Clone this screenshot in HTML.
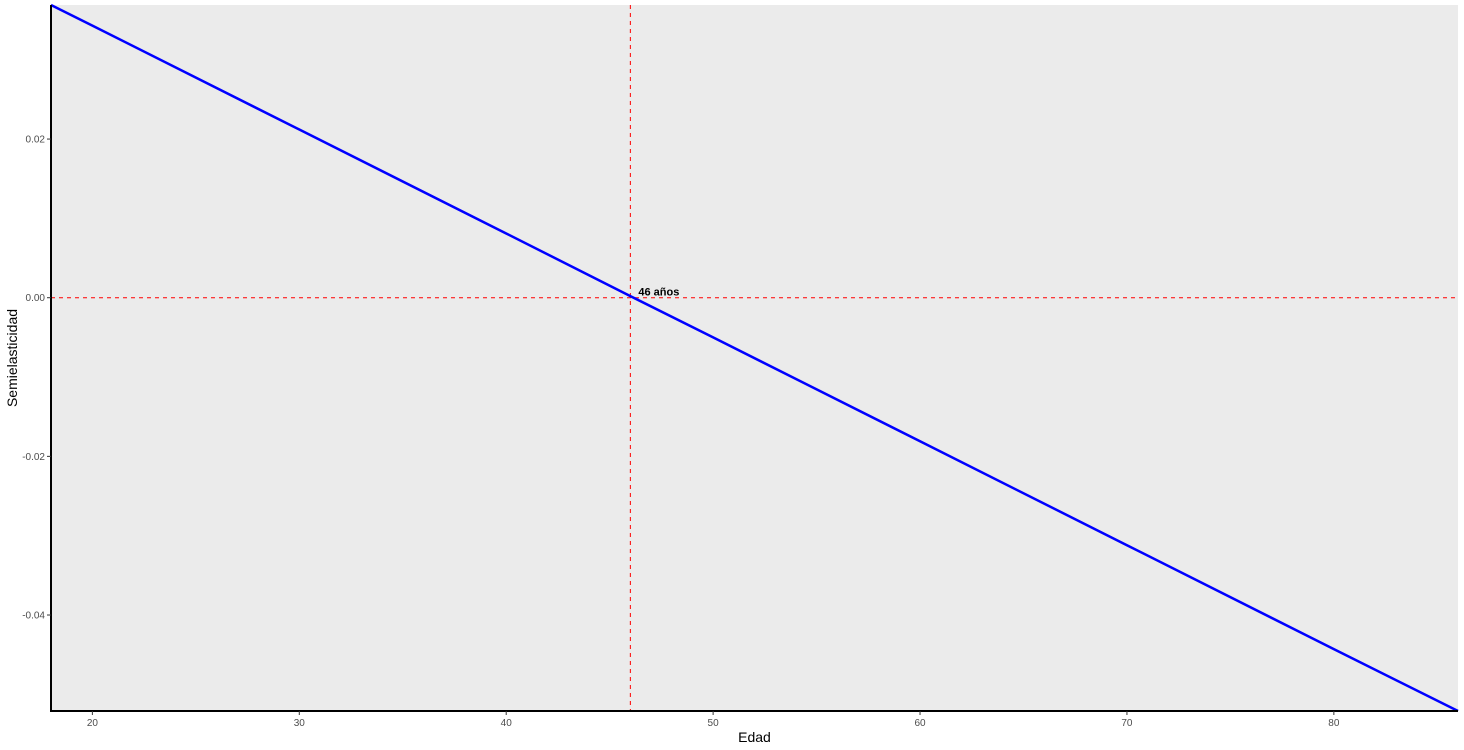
<!DOCTYPE html>
<html><head><meta charset="utf-8"><style>
body{margin:0;background:#fff;font-family:"Liberation Sans",Arial,sans-serif;}
svg{display:block}
</style></head><body>
<svg id="chart" width="1464" height="750"></svg>
<script>
const ages = [18, 20, 30, 40, 46, 50, 60, 70, 80, 86];
const semiel = [0.0369, 0.0343, 0.0212, 0.0081, 0.0002, -0.0050, -0.0181, -0.0312, -0.0443, -0.0521];
const xTicks = [20, 30, 40, 50, 60, 70, 80];
const yTicks = [0.02, 0.00, -0.02, -0.04];
const yTickLabels = ["0.02", "0.00", "-0.02", "-0.04"];
const refAge = 46;
const refValue = 0;
const refLabel = "46 años";

const NS = "http://www.w3.org/2000/svg";
const svg = document.getElementById("chart");
const L = 51, R = 1458, T = 5, B = 711;
const xMin = 18, xMax = 86, yMin = -0.0521, yMax = 0.0369;
const xs = v => L + (v - xMin) / (xMax - xMin) * (R - L);
const ys = v => B - (v - yMin) / (yMax - yMin) * (B - T);
function mk(tag, attrs, parent) {
  const e = document.createElementNS(NS, tag);
  for (const k in attrs) e.setAttribute(k, attrs[k]);
  (parent || svg).appendChild(e);
  return e;
}
const bg = mk("rect", {x: L, y: T, width: R - L, height: B - T, fill: "#ebebeb"});



const hl = mk("line", {x1: L, x2: R, y1: ys(refValue), y2: ys(refValue), stroke: "#ff0000", "stroke-width": 1, "stroke-dasharray": "4,4"});


const vl = mk("line", {x1: xs(refAge), x2: xs(refAge), y1: T, y2: B, stroke: "#ff0000", "stroke-width": 1, "stroke-dasharray": "4,4"});



const pl = mk("polyline", {points: ages.map((a, i) => xs(a) + "," + ys(semiel[i])).join(" "), fill: "none", stroke: "#0000ff", "stroke-width": 2.5});



const lab = mk("text", {x: xs(refAge) + 8, y: ys(refValue) - 2, "font-size": 11, "font-weight": "bold", fill: "#000"});
lab.textContent = refLabel;



const ax = mk("line", {x1: L, x2: R, y1: B, y2: B, stroke: "#000", "stroke-width": 2});


const ay = mk("line", {x1: L, x2: L, y1: T, y2: B + 1, stroke: "#000", "stroke-width": 2});



xTicks.forEach(t => {
  const tk = mk("line", {x1: xs(t), x2: xs(t), y1: B, y2: B + 4, stroke: "#333"});
  
  
  const tx = mk("text", {x: xs(t), y: B + 15, "font-size": 10, fill: "#4d4d4d", "text-anchor": "middle"});
  tx.textContent = t;
  
  
});
yTicks.forEach((t, i) => {
  const tk = mk("line", {x1: L - 4, x2: L, y1: ys(t), y2: ys(t), stroke: "#333"});
  
  
  const tx = mk("text", {x: L - 6, y: ys(t) + 3.5, "font-size": 10, fill: "#4d4d4d", "text-anchor": "end"});
  tx.textContent = yTickLabels[i];
  
  
});
const xt = mk("text", {x: (L + R) / 2, y: 742, "font-size": 14, fill: "#000", "text-anchor": "middle"});
xt.textContent = "Edad";


const yt = mk("text", {x: 17, y: (T + B) / 2, "font-size": 14, fill: "#000", "text-anchor": "middle", transform: "rotate(-90 17 " + (T + B) / 2 + ")"});
yt.textContent = "Semielasticidad";


</script>
</body></html>
